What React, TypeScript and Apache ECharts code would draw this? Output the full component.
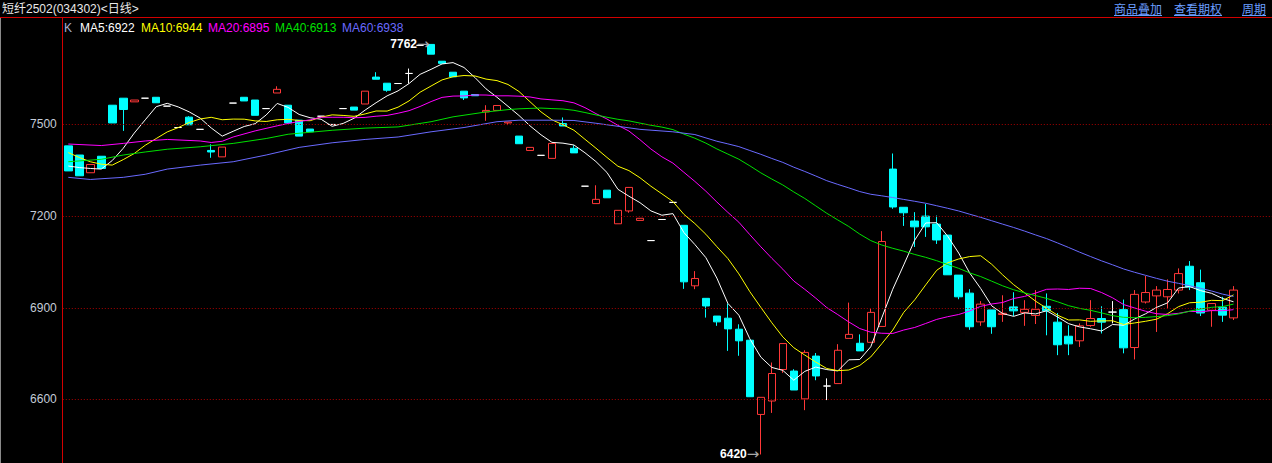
import React, { useEffect, useRef } from 'react';
import * as echarts from 'echarts';

// [open, close, low, high] per trading day
const candles: number[][] = [
  [7430, 7348, 7348, 7430], [7400, 7332, 7332, 7400], [7342, 7369, 7342, 7369], [7396, 7356, 7356, 7396],
  [7563, 7505, 7505, 7563], [7586, 7549, 7479, 7586], [7574, 7580, 7574, 7580], [7586, 7586, 7586, 7586],
  [7589, 7571, 7571, 7589], [7560, 7560, 7560, 7560], [7490, 7490, 7490, 7490], [7524, 7499, 7499, 7527],
  [7484, 7484, 7484, 7484], [7415, 7410, 7391, 7435], [7394, 7426, 7394, 7426], [7570, 7570, 7570, 7570],
  [7589, 7577, 7577, 7589], [7580, 7530, 7530, 7580], [7552, 7552, 7552, 7552], [7603, 7615, 7603, 7625],
  [7563, 7505, 7505, 7563], [7514, 7462, 7462, 7514], [7485, 7476, 7476, 7485], [7527, 7527, 7527, 7527],
  [7500, 7500, 7500, 7500], [7552, 7552, 7552, 7552], [7557, 7547, 7547, 7557], [7567, 7609, 7567, 7609],
  [7655, 7648, 7648, 7671], [7635, 7612, 7607, 7635], [7634, 7634, 7634, 7634], [7667, 7667, 7634, 7683],
  [7759, 7759, 7759, 7759], [7762, 7730, 7730, 7762], [7707, 7700, 7700, 7707], [7671, 7656, 7656, 7671],
  [7609, 7587, 7580, 7609], [7598, 7594, 7594, 7598], [7541, 7546, 7512, 7563], [7546, 7562, 7546, 7562],
  [7505, 7508, 7498, 7508], [7462, 7437, 7437, 7462], [7415, 7425, 7415, 7425], [7399, 7399, 7399, 7399],
  [7389, 7438, 7389, 7438], [7503, 7495, 7495, 7523], [7422, 7407, 7407, 7432], [7298, 7298, 7298, 7298],
  [7241, 7255, 7241, 7301], [7285, 7260, 7260, 7285], [7175, 7219, 7175, 7219], [7217, 7294, 7211, 7294],
  [7186, 7193, 7186, 7193], [7120, 7120, 7120, 7120], [7189, 7189, 7189, 7189], [7245, 7245, 7245, 7245],
  [7170, 6985, 6962, 7170], [6972, 6996, 6961, 7020], [6931, 6906, 6868, 6931], [6873, 6854, 6841, 6873],
  [6866, 6831, 6759, 6914], [6830, 6792, 6743, 6846], [6794, 6609, 6609, 6794], [6551, 6607, 6420, 6607],
  [6595, 6685, 6556, 6721], [6698, 6783, 6687, 6783], [6693, 6631, 6631, 6699], [6602, 6754, 6565, 6761],
  [6742, 6677, 6663, 6752], [6644, 6644, 6598, 6669], [6652, 6761, 6652, 6781], [6800, 6813, 6800, 6917],
  [6784, 6759, 6759, 6813], [6787, 6885, 6787, 6898], [6839, 7117, 6839, 7151], [7354, 7230, 7224, 7405],
  [7229, 7211, 7168, 7229], [7184, 7165, 7099, 7213], [7200, 7165, 7132, 7240], [7174, 7122, 7109, 7202],
  [7138, 7008, 7008, 7138], [7007, 6936, 6928, 7007], [6948, 6838, 6828, 6961], [6854, 6912, 6841, 6922],
  [6893, 6838, 6815, 6893], [6878, 6882, 6854, 6941], [6903, 6890, 6873, 6951], [6885, 6895, 6841, 6925],
  [6875, 6895, 6847, 6958], [6905, 6890, 6810, 6947], [6853, 6779, 6745, 6883], [6807, 6782, 6745, 6843],
  [6792, 6841, 6772, 6849], [6842, 6865, 6838, 6925], [6865, 6853, 6816, 6905], [6886, 6886, 6849, 6922],
  [6894, 6769, 6751, 6927], [6770, 6944, 6731, 6958], [6919, 6950, 6914, 7004], [6939, 6958, 6821, 6971],
  [6936, 6960, 6898, 6993], [6958, 7012, 6947, 7029], [7036, 6968, 6958, 7053], [6982, 6883, 6873, 7025],
  [6892, 6914, 6838, 6914], [6902, 6876, 6854, 6936], [6867, 6958, 6860, 6971],
];

// slots on the x axis (the last few are empty, as in the terminal view)
const slotCount = 110;
const categories = Array.from({ length: slotCount }, (_, i) => `D${i + 1}`);

const maPeriods = [5, 10, 20, 40, 60];
const maColors = ['#ffffff', '#ffff00', '#ff00ff', '#00e000', '#6a6aff'];
const maLegendValues = [6922, 6944, 6895, 6913, 6938];

// MA values before enough history exists in this window: [dayIndex, value]
const ma5Head = [[0, 7364], [1, 7359], [2, 7356], [3, 7354]];
const ma10Head = [[0, 7408], [1, 7392], [2, 7378], [3, 7370], [4, 7367], [5, 7385], [6, 7405], [7, 7432], [8, 7454]];
const ma20Head = [[0, 7436], [3, 7431], [5, 7438], [7, 7446], [9, 7451], [12, 7446], [13, 7441], [14, 7445], [15, 7459], [17, 7479]];
const ma40Head = [[0, 7378], [3, 7386], [5, 7400], [7, 7410], [9, 7419], [12, 7427], [15, 7438], [18, 7454], [20, 7468], [24, 7481], [27, 7488], [30, 7492], [33, 7509], [35, 7525], [38, 7541]];
const ma60Head = [[0, 7327], [2, 7320], [5, 7327], [7, 7337], [9, 7354], [12, 7367], [15, 7378], [18, 7400], [21, 7425], [24, 7440], [27, 7451], [30, 7459], [33, 7476], [36, 7490], [39, 7509], [41, 7514], [44, 7514], [46, 7513], [48, 7504], [52, 7484], [55, 7476], [57, 7467]];
const maHeads = [ma5Head, ma10Head, ma20Head, ma40Head, ma60Head];

// price scale of the visible window and its grid levels
const yMin = 6392.1;
const yMax = 7800;
const yTicks = [6600, 6900, 7200, 7500];

const highMark = { index: 33, value: 7762 };
const lowMark = { index: 63, value: 6420 };

const titleText = '短纤2502(034302)<日线>';
const linkTexts = ['商品叠加', '查看期权', '周期'];

function movingAverage(period: number, head: number[][]) {
  const closes = candles.map((c) => c[1]);
  const out: (number | null)[] = new Array(candles.length).fill(null);
  head.forEach(([i, v]) => { out[i] = v; });
  for (let i = period - 1; i < closes.length; i++) {
    let s = 0;
    for (let k = i - period + 1; k <= i; k++) s += closes[k];
    out[i] = Math.round((s / period) * 10) / 10;
  }
  return out;
}

const FONT = '"Liberation Sans", Arial, "Noto Sans CJK SC", sans-serif';
const RED = '#d20000';

export default function App() {
  const ref = useRef<HTMLDivElement>(null);
  useEffect(() => {
    if (!ref.current) return;
    const chart = echarts.init(ref.current, undefined, { renderer: 'svg' });

    const maSeries = maPeriods.map((p, k) => ({
      type: 'line',
      name: `MA${p}`,
      data: movingAverage(p, maHeads[k]),
      symbol: 'none',
      connectNulls: true,
      silent: true,
      z: 3,
      lineStyle: { width: 1, color: maColors[k] },
    }));

    const legendX = [80, 141, 208, 275, 342];
    const linkX = [1114, 1174, 1242];
    const linkW = [48, 48, 24];

    const graphic: any[] = [
      { type: 'line', shape: { x1: 0, y1: 17.5, x2: 1272, y2: 17.5 }, style: { stroke: RED, lineWidth: 1 }, silent: true },
      { type: 'line', shape: { x1: 62.5, y1: 17.5, x2: 62.5, y2: 463 }, style: { stroke: RED, lineWidth: 1 }, silent: true },
      { type: 'line', shape: { x1: 0.5, y1: 18, x2: 0.5, y2: 463 }, style: { stroke: '#8a8a8a', lineWidth: 1 }, silent: true },
      { type: 'text', x: 2, y: 9, style: { text: titleText, fill: '#e8e8e8', font: `12px ${FONT}`, textVerticalAlign: 'middle', verticalAlign: 'middle' }, silent: true },
      { type: 'text', x: 64, y: 28, style: { text: 'K', fill: '#a8b0d0', font: `12px ${FONT}`, textVerticalAlign: 'middle', verticalAlign: 'middle' }, silent: true },
    ];
    maPeriods.forEach((p, k) => {
      graphic.push({
        type: 'text', x: legendX[k], y: 28,
        style: { text: `MA${p}:${maLegendValues[k]}`, fill: maColors[k], font: `12px ${FONT}`, textVerticalAlign: 'middle', verticalAlign: 'middle' },
        silent: true,
      });
    });
    linkTexts.forEach((t, k) => {
      graphic.push({
        type: 'text', x: linkX[k], y: 8,
        style: { text: t, fill: '#6a9eff', font: `12px "Noto Sans CJK SC", sans-serif`, textVerticalAlign: 'middle', verticalAlign: 'middle' },
        silent: true,
      });
      graphic.push({
        type: 'line', shape: { x1: linkX[k], y1: 15.5, x2: linkX[k] + linkW[k], y2: 15.5 },
        style: { stroke: '#6a9eff', lineWidth: 1 }, silent: true,
      });
    });

    const option: any = {
      animation: false,
      backgroundColor: '#000000',
      grid: { left: 62.8, top: 32.8, width: 1210, height: 430.2, containLabel: false },
      xAxis: {
        type: 'category',
        data: categories,
        boundaryGap: true,
        axisLine: { show: false },
        axisTick: { show: false },
        axisLabel: { show: false },
        splitLine: { show: false },
      },
      yAxis: {
        type: 'value',
        min: yMin,
        max: yMax,
        axisLine: { show: false },
        axisTick: { show: false },
        axisLabel: { show: false },
        splitLine: { show: false },
      },
      series: [
        {
          type: 'candlestick',
          data: candles.map((c) => [c[0], c[1], c[2], c[3]]),
          barWidth: 8,
          silent: true,
          z: 2,
          itemStyle: {
            color: 'rgba(0,0,0,0)',
            color0: '#00ffff',
            borderColor: '#ff3838',
            borderColor0: '#00ffff',
            borderColorDoji: '#ffffff',
            borderWidth: 1,
          },
          markLine: {
            silent: true,
            symbol: ['none', 'none'],
            precision: 0,
            lineStyle: { color: '#a80000', width: 1, type: [1, 2] },
            label: {
              show: true,
              position: 'start',
              distance: 6,
              formatter: (p: any) => String(p.value),
              color: '#c4ccd8',
              fontSize: 12,
              fontFamily: FONT,
            },
            emphasis: { disabled: true },
            data: yTicks.map((v) => ({ yAxis: v })),
          },
          markPoint: {
            symbol: 'circle',
            symbolSize: 1,
            silent: true,
            itemStyle: { color: 'rgba(0,0,0,0)' },
            label: {
              show: true,
              position: 'left',
              distance: 1,
              formatter: (p: any) => `{v|${p.value}}{a|→}`,
              rich: {
                v: { color: '#ffffff', fontSize: 12, fontWeight: 'bold', fontFamily: FONT },
                a: { color: '#a8a8a8', fontSize: 15, fontFamily: '"DejaVu Sans"' },
              },
            },
            data: [
              { coord: [highMark.index, highMark.value], value: highMark.value },
              { coord: [lowMark.index, lowMark.value], value: lowMark.value },
            ],
          },
        },
        ...maSeries,
      ],
      graphic,
    };
    chart.setOption(option);
    return () => chart.dispose();
  }, []);

  return (
    <div
      ref={ref}
      style={{ position: 'fixed', left: 0, top: 0, width: 1272, height: 463, background: '#000' }}
    />
  );
}
